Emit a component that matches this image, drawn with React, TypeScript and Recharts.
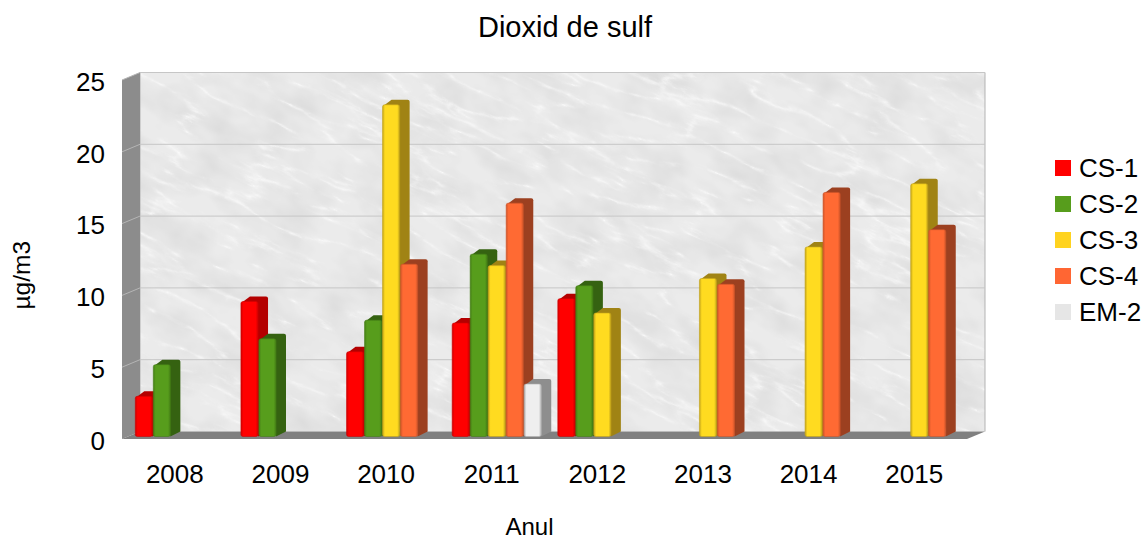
import React from "react";
import { BarChart, Bar, XAxis, YAxis, CartesianGrid, Legend } from "recharts";

const years = ["2008", "2009", "2010", "2011", "2012", "2013", "2014", "2015"];
const cs1 = [2.8, 9.4, 5.9, 7.9, 9.6, null, null, null];
const cs2 = [5.0, 6.8, 8.1, 12.7, 10.5, null, null, null];
const cs3 = [null, null, 23.1, 11.9, 8.6, 11.0, 13.2, 17.6];
const cs4 = [null, null, 12.0, 16.25, null, 10.6, 17.0, 14.4];
const em2 = [null, null, null, 3.65, null, null, null, null];
const yTicks = [0, 5, 10, 15, 20, 25];

const seriesNames = ["CS-1", "CS-2", "CS-3", "CS-4", "EM-2"];
const seriesColors = ["#ff0000", "#579d1c", "#ffdb20", "#ff6a33", "#efefef"];
const legendColors = ["#ff0000", "#579d1c", "#ffd320", "#ff6633", "#e6e6e6"];
const edgeColors = ["#d00000", "#457f16", "#c4a51a", "#d0562a", "#b4b4b4"];
const sideColors = ["#b40000", "#356211", "#a08314", "#9c4020", "#8e8e8e"];

const rows = years.map((year, i) => ({
  year,
  "CS-1": cs1[i],
  "CS-2": cs2[i],
  "CS-3": cs3[i],
  "CS-4": cs4[i],
  "EM-2": em2[i],
}));

const W = 1142;
const H = 536;
const L = 122;
const T = 80;
const R = 967;
const B = 439;
const DX = 18;
const DY = 7.5;
const FONT = "'Liberation Sans', Arial, sans-serif";

function Walls() {
  return (
    <g>
      <defs>
        <filter id="marble" x="0" y="0" width="100%" height="100%" colorInterpolationFilters="sRGB">
          <feTurbulence type="turbulence" baseFrequency="0.012 0.045" numOctaves={5} seed={11} result="t" />
          <feColorMatrix in="t" type="matrix" values="0 0 0 0 0  0 0 0 0 0  0 0 0 0 0  1.6 0 0 0 0" result="a" />
          <feComponentTransfer in="a" result="b">
            <feFuncA type="table" tableValues="0.9 0.5 0.16 0.03 0 0 0 0" />
          </feComponentTransfer>
          <feTurbulence type="fractalNoise" baseFrequency="0.022 0.035" numOctaves={3} seed={3} result="n" />
          <feColorMatrix
            in="n"
            type="matrix"
            values="0 0 0 0 0.86  0 0 0 0 0.86  0 0 0 0 0.86  1.6 0 0 0 -0.55"
            result="clouds"
          />
          <feFlood floodColor="#ebebeb" result="bg" />
          <feFlood floodColor="#fbfbfb" result="fg" />
          <feComposite in="fg" in2="b" operator="in" result="veins" />
          <feMerge>
            <feMergeNode in="bg" />
            <feMergeNode in="clouds" />
            <feMergeNode in="veins" />
          </feMerge>
        </filter>
        <clipPath id="wallClip">
          <rect x={L + DX} y={T - DY} width={R - L} height={B - T} />
        </clipPath>
        {seriesColors.map((c, i) => (
          <linearGradient id={`front${i}`} key={c} x1="0" x2="1" y1="0" y2="0">
            <stop offset="0" stopColor={edgeColors[i]} />
            <stop offset="0.14" stopColor={c} />
            <stop offset="0.86" stopColor={c} />
            <stop offset="1" stopColor={edgeColors[i]} />
          </linearGradient>
        ))}
      </defs>
      <g clipPath="url(#wallClip)">
        <rect
          x={L - 120}
          y={T - 320}
          width={R - L + 260}
          height={B - T + 640}
          filter="url(#marble)"
          transform={`rotate(24 ${(L + R) / 2} ${(T + B) / 2})`}
        />
      </g>
      <path d={`M${L + DX} ${B - DY}V${T - DY}H${R + DX}V${B - DY}`} fill="none" stroke="#b3b3b3" strokeWidth={1} />
      <polygon points={`${L},${T} ${L + DX},${T - DY} ${L + DX},${B - DY} ${L},${B}`} fill="#8c8c8c" />
      <polygon points={`${L},${B} ${R},${B} ${R + DX},${B - DY} ${L + DX},${B - DY}`} fill="#808080" />
    </g>
  );
}

function gridLine(p: any) {
  const { x1, x2, y1, index } = p;
  const isFloor = Math.abs(y1 - B) < 1;
  return (
    <g key={p.key}>
      {index === 0 ? <Walls /> : null}
      {isFloor ? null : (
        <>
          <line x1={x1} y1={y1} x2={x1 + DX} y2={y1 - DY} stroke="#b5b5b5" strokeWidth={1} />
          <line x1={x1 + DX} y1={y1 - DY} x2={x2 + DX} y2={y1 - DY} stroke="#c6c6c6" strokeWidth={1} />
        </>
      )}
    </g>
  );
}

function Bar3D(props: any) {
  const { x, y, width, height, idx } = props;
  if (!height || height <= 0) return <g />;
  const fx = x + 4.5;
  const fy = y - 2.5;
  const w = width - 0.9;
  const d = 10;
  const r = 5;
  const bottom = fy + height;
  return (
    <g>
      <path
        d={`M${fx + 1} ${fy + 1}L${fx + d - 1} ${fy - r}H${fx + w + d - 2}Q${fx + w + d} ${fy - r} ${fx + w + d} ${fy - r + 2}V${bottom - r}L${fx + w} ${bottom}Z`}
        fill={sideColors[idx]}
      />
      <rect x={fx} y={fy} width={w} height={height} rx={2} fill={`url(#front${idx})`} stroke={edgeColors[idx]} strokeWidth={0.6} />
    </g>
  );
}

function LegendBox() {
  return (
    <div style={{ paddingLeft: 88, fontFamily: FONT, fontSize: 26, color: "#000", whiteSpace: "nowrap" }}>
      {seriesNames.map((n, i) => (
        <div key={n} style={{ height: 36, display: "flex", alignItems: "center" }}>
          <span style={{ width: 16, height: 16, background: legendColors[i], marginRight: 8, display: "inline-block" }} />
          <span>{n}</span>
        </div>
      ))}
    </div>
  );
}

export default function App() {
  return (
    <div style={{ width: W, height: H }}>
      <style>{"html,body{margin:0;padding:0;background:#fff}"}</style>
      <BarChart
        width={W}
        height={H}
        data={rows}
        margin={{ top: T, right: 0, bottom: H - B - 60, left: L - 60 }}
        barCategoryGap="8.33%"
        barGap={0}
      >
        <CartesianGrid vertical={false} horizontal={gridLine as any} />
        <XAxis
          dataKey="year"
          height={60}
          axisLine={false}
          tickLine={false}
          tickMargin={20}
          tick={{ fontFamily: FONT, fontSize: 26, fill: "#000" }}
          interval={0}
          label={{ value: "Anul", position: "insideBottom", offset: 0, dy: 36, dx: -15, fontFamily: FONT, fontSize: 24, fill: "#000" }}
        />
        <YAxis
          width={60}
          domain={[0, 25]}
          ticks={yTicks}
          axisLine={false}
          tickLine={false}
          tickMargin={11}
          tick={{ fontFamily: FONT, fontSize: 26, fill: "#000", dy: 1.5 }}
          label={{ value: "µg/m3", angle: -90, position: "insideLeft", dx: -46, dy: 50, fontFamily: FONT, fontSize: 24.5, fill: "#000" }}
        />
        <Legend width={175} layout="vertical" align="right" verticalAlign="top" wrapperStyle={{ top: 150 }} content={() => <LegendBox />} />
        {seriesNames.map((n, i) => (
          <Bar
            key={n}
            dataKey={n}
            fill={seriesColors[i]}
            isAnimationActive={false}
            shape={(p: any) => <Bar3D {...p} idx={i} />}
          />
        ))}
        <text x={565} y={37} textAnchor="middle" fontFamily={FONT} fontSize={29} fill="#000">
          Dioxid de sulf
        </text>
      </BarChart>
    </div>
  );
}
